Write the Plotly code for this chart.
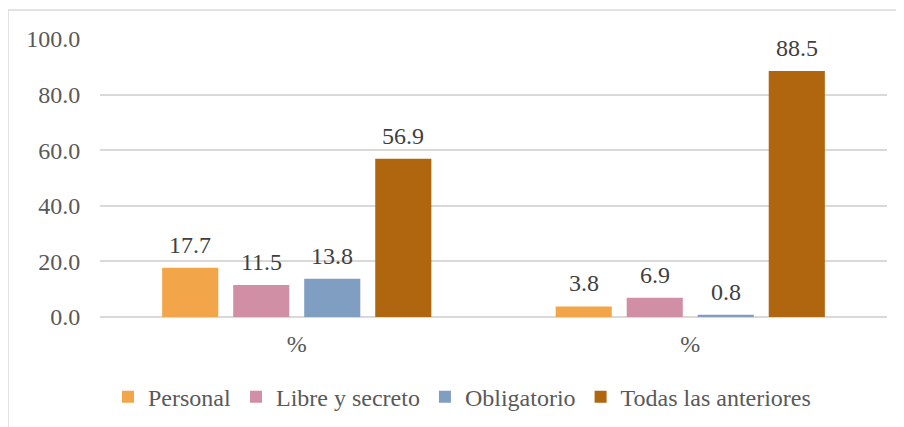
import plotly.graph_objects as go

groups = ["g1", "g2"]
group_labels = ["%", "%"]
series_names = ["Personal", "Libre y secreto", "Obligatorio", "Todas las anteriores"]
personal = [17.7, 3.8]
libre = [11.5, 6.9]
obligatorio = [13.8, 0.8]
todas = [56.9, 88.5]
colors = ["#F2A649", "#D18FA5", "#809DC2", "#B0650F"]
y_ticks = [0, 20, 40, 60, 80, 100]

FONT = '"Liberation Serif", "DejaVu Serif", serif'
FS = 24
SLOT_PX = 71

fig = go.Figure()
annotations = []
all_vals = [personal, libre, obligatorio, todas]
for i, (name, vals, col) in enumerate(zip(series_names, all_vals, colors)):
    fig.add_trace(go.Bar(
        x=groups, y=vals, name=name, marker=dict(color=col, line=dict(width=0)),
        cliponaxis=False,
    ))
    for g, v in zip(groups, vals):
        annotations.append(dict(
            x=g, y=v, xref="x", yref="y", text=f"{v:.1f}", showarrow=False,
            xshift=(i - 1.5) * SLOT_PX, yshift=8, yanchor="bottom",
            font=dict(family=FONT, size=FS, color="#404040")))

# page body has an 8px margin, so the figure is drawn at (8, 8)
W, H = 896, 419
fig.update_layout(
    width=W, height=H,
    margin=dict(l=92, r=W - 879, t=31, b=H - 309, autoexpand=False),
    paper_bgcolor="white", plot_bgcolor="white",
    barmode="group", bargap=0.278, bargroupgap=0.21,
    font=dict(family=FONT, size=FS, color="#595959"),
    showlegend=True,
    legend=dict(orientation="h", x=0.46, xanchor="center", y=-0.288, yanchor="middle",
                font=dict(family=FONT, size=FS, color="#595959"),
                itemwidth=30, tracegroupgap=0),
    xaxis=dict(tickmode="array", tickvals=groups, ticktext=group_labels,
               showgrid=False, showline=False, zeroline=False, automargin=False,
               ticks="outside", ticklen=5, tickcolor="rgba(0,0,0,0)",
               tickfont=dict(family=FONT, size=FS, color="#595959")),
    yaxis=dict(range=[0, 100], tickvals=y_ticks, ticktext=[f"{v:.1f}" for v in y_ticks],
               showgrid=True, gridcolor="#D9D9D9", gridwidth=1.5, automargin=False,
               zeroline=True, zerolinecolor="#D9D9D9", zerolinewidth=1.5,
               showline=False, ticks="outside", ticklen=14, tickcolor="rgba(0,0,0,0)",
               tickfont=dict(family=FONT, size=FS, color="#595959")),
    annotations=annotations,
    shapes=[dict(type="rect", xref="paper", yref="paper",
                 x0=-0.1169, x1=1.2, y0=-0.6, y1=1.1043,
                 line=dict(color="#D9D9D9", width=1.5), fillcolor="rgba(0,0,0,0)",
                 layer="below")],
)

fig.write_html("out.html")
